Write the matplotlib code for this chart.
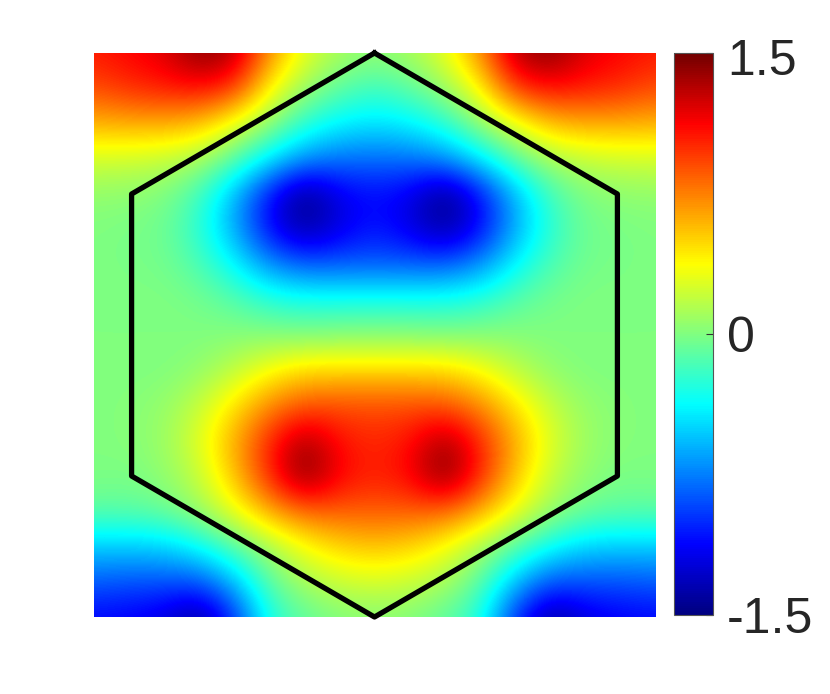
import numpy as np
import matplotlib
matplotlib.use("Agg")
import matplotlib.pyplot as plt
from matplotlib.colors import LinearSegmentedColormap
from matplotlib.transforms import ScaledTranslation

plt.rcParams['font.family'] = ['Liberation Sans', 'DejaVu Sans']

# field values, rows from top to bottom, 17 columns left to right
row_00 = [1.05, 1.12, 1.20, 1.45, 1.35, 0.70, 0.30, 0.12, 0.05, 0.12, 0.30, 0.70, 1.35, 1.45, 1.20, 1.12, 1.05]
row_01 = [0.90, 1.00, 1.05, 1.10, 0.98, 0.38, 0.08, -0.10, -0.20, -0.10, 0.08, 0.38, 0.98, 1.10, 1.05, 1.00, 0.90]
row_02 = [0.60, 0.62, 0.62, 0.56, 0.30, 0.05, -0.25, -0.40, -0.45, -0.40, -0.25, 0.05, 0.30, 0.56, 0.62, 0.62, 0.60]
row_03 = [0.24, 0.23, 0.20, 0.12, -0.10, -0.42, -0.68, -0.78, -0.80, -0.78, -0.68, -0.42, -0.10, 0.12, 0.20, 0.23, 0.24]
row_04 = [0.05, 0.04, 0.00, -0.18, -0.58, -1.10, -1.50, -1.18, -1.10, -1.18, -1.50, -1.10, -0.58, -0.18, 0.00, 0.04, 0.05]
row_05 = [0.00, -0.02, -0.05, -0.25, -0.62, -1.12, -1.42, -1.20, -1.05, -1.20, -1.42, -1.12, -0.62, -0.25, -0.05, -0.02, 0.00]
row_06 = [0.00, -0.02, -0.03, -0.15, -0.38, -0.70, -0.85, -0.85, -0.85, -0.85, -0.85, -0.70, -0.38, -0.15, -0.03, -0.02, 0.00]
row_07 = [0.00, 0.00, 0.00, -0.03, -0.12, -0.25, -0.30, -0.30, -0.30, -0.30, -0.30, -0.25, -0.12, -0.03, 0.00, 0.00, 0.00]
row_08 = [0.00, 0.00, 0.00, 0.00, 0.02, 0.02, 0.00, 0.02, 0.03, 0.02, 0.00, 0.02, 0.02, 0.00, 0.00, 0.00, 0.00]
row_09 = [0.00, 0.00, 0.00, 0.05, 0.18, 0.36, 0.48, 0.48, 0.48, 0.48, 0.48, 0.36, 0.18, 0.05, 0.00, 0.00, 0.00]
row_10 = [0.00, 0.02, 0.06, 0.20, 0.45, 0.72, 0.88, 0.90, 0.90, 0.90, 0.88, 0.72, 0.45, 0.20, 0.06, 0.02, 0.00]
row_11 = [0.00, 0.02, 0.08, 0.28, 0.62, 1.02, 1.38, 1.08, 1.00, 1.08, 1.38, 1.02, 0.62, 0.28, 0.08, 0.02, 0.00]
row_12 = [0.00, -0.02, 0.05, 0.20, 0.55, 1.02, 1.50, 1.12, 1.03, 1.12, 1.50, 1.02, 0.55, 0.20, 0.05, -0.02, 0.00]
row_13 = [-0.10, -0.10, -0.06, 0.08, 0.32, 0.62, 0.82, 0.85, 0.85, 0.85, 0.82, 0.62, 0.32, 0.08, -0.06, -0.10, -0.10]
row_14 = [-0.52, -0.52, -0.50, -0.35, -0.12, 0.12, 0.35, 0.50, 0.55, 0.50, 0.35, 0.12, -0.12, -0.35, -0.50, -0.52, -0.52]
row_15 = [-0.85, -0.88, -0.88, -0.88, -0.55, -0.10, 0.12, 0.22, 0.25, 0.22, 0.12, -0.10, -0.55, -0.88, -0.88, -0.88, -0.85]
row_16 = [-1.12, -1.15, -1.22, -1.45, -1.00, -0.28, -0.10, 0.00, 0.03, 0.00, -0.10, -0.28, -1.00, -1.45, -1.22, -1.15, -1.12]

all_rows = [row_00, row_01, row_02, row_03, row_04, row_05, row_06, row_07, row_08,
            row_09, row_10, row_11, row_12, row_13, row_14, row_15, row_16]

# hexagon outline (closed)
hex_x = [0.0, 0.866, 0.866, 0.0, -0.866, -0.866, 0.0]
hex_y = [1.0, 0.5, -0.5, -1.0, -0.5, 0.5, 1.0]

cbar_ticks = [-1.5, 0, 1.5]
cbar_labels = ['-1.5', '0', '1.5']

# MATLAB style jet, anchors
cmap_anchors = [(0.0, (0.0, 0.0, 0.5)), (0.125, (0.0, 0.0, 1.0)), (0.375, (0.0, 1.0, 1.0)),
                (0.625, (1.0, 1.0, 0.0)), (0.875, (1.0, 0.0, 0.0)), (1.0, (0.45, 0.0, 0.0))]
matlab_jet = LinearSegmentedColormap.from_list('matlab_jet', cmap_anchors, N=256)

W, H = 830, 694
fig = plt.figure(figsize=(W / 100, H / 100), dpi=100)

# positions in pixels of the reference
ax = fig.add_axes([94 / W, 1 - 617 / H, (655 - 94) / W, (617 - 53) / H])
cax = fig.add_axes([674 / W, 1 - 615 / H, (713 - 674) / W, (615 - 53) / H])

field = np.array(all_rows)
half_cell_x = 1.0 / (field.shape[1] - 1)
half_cell_y = 1.0 / (field.shape[0] - 1)
im = ax.imshow(field, cmap=matlab_jet, vmin=-1.5, vmax=1.5, aspect='auto', interpolation='bicubic',
               extent=(-1 - half_cell_x, 1 + half_cell_x, -1 - half_cell_y, 1 + half_cell_y))
ax.plot(hex_x, hex_y, color='black', linewidth=3.8, solid_joinstyle='round', clip_on=False)
ax.set_xlim(-1, 1)
ax.set_ylim(-1, 1)
ax.axis('off')

cbar = fig.colorbar(im, cax=cax)
cbar.set_ticks(cbar_ticks)
cbar.set_ticklabels(cbar_labels)
cax.tick_params(direction='in', length=5, width=0.8, color='#333333', labelsize=36,
                labelcolor='#262626', pad=10)
cbar.outline.set_linewidth(0.8)
cbar.outline.set_edgecolor('#555555')

# top label sits a little below the end of the bar
top_label = cax.get_yticklabels()[-1]
top_label.set_transform(top_label.get_transform() + ScaledTranslation(0, -3 / 72, fig.dpi_scale_trans))

fig.savefig('out.png', dpi=100)
